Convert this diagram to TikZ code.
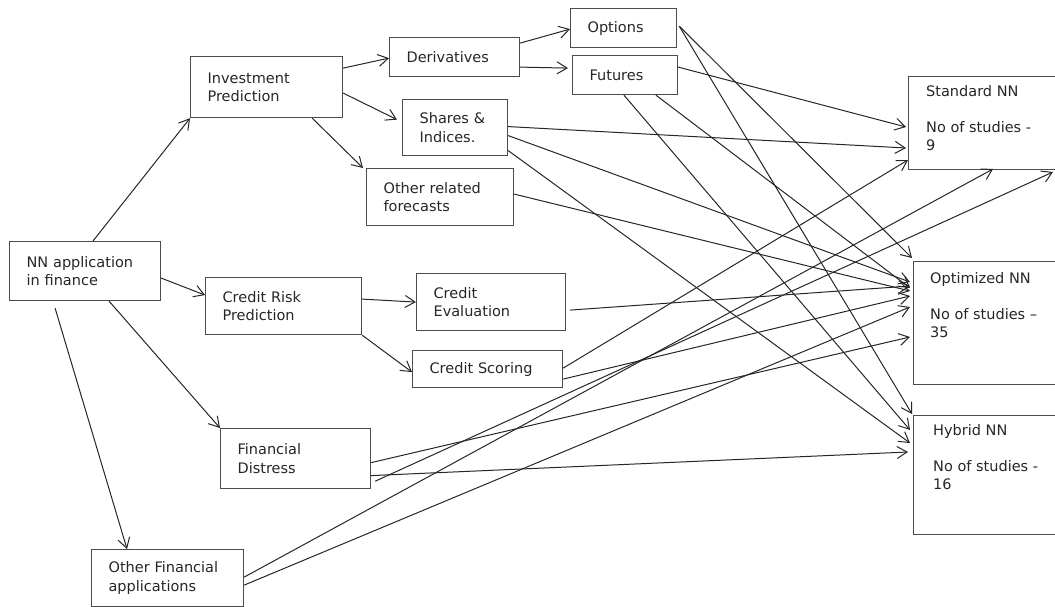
\documentclass[tikz,border=0pt]{standalone}
\usepackage{fontspec}
\setmainfont{DejaVu Sans}
\usetikzlibrary{arrows.meta}

\tikzset{
  box/.style={draw=black!70, line width=1.2pt, anchor=north west, inner xsep=17pt, inner ysep=0pt, align=left, text=black!85, font=\fontsize{14.5}{18.5}\selectfont},
  bigbox/.style={draw=black!70, line width=1.2pt, anchor=north west, minimum width=160pt, inner sep=0pt},
  bigtext/.style={anchor=north west, inner sep=0pt, align=left, text=black!85, font=\fontsize{14.5}{18}\selectfont},
  link/.style={draw=black!85, line width=1pt, -{Straight Barb[length=10pt,width=12pt]}},
}

\begin{document}
\begin{tikzpicture}[x=1pt,y=-1pt]
\useasboundingbox (0,0) rectangle (1055,607);

% left part
\node[box, text width=117pt, minimum height=59pt] (nn) at (9,241) {NN application\\in finance};
\node[box, text width=118pt, minimum height=61pt] (invest) at (190,56) {Investment\\Prediction};
\node[box, text width=122pt, minimum height=57pt] (crisk) at (205,277) {Credit Risk\\Prediction};
\node[box, text width=116pt, minimum height=60pt] (findis) at (220,428) {Financial\\Distress};
\node[box, text width=118pt, minimum height=57pt] (otherfin) at (91,549) {Other Financial\\applications};

% middle part
\node[box, text width=96pt, minimum height=39pt] (deriv) at (389,37) {Derivatives};
\node[box, text width=72pt, minimum height=39pt] (options) at (570,8) {Options};
\node[box, text width=71pt, minimum height=39pt] (futures) at (572,55) {Futures};
\node[box, text width=71pt, minimum height=56pt] (shares) at (402,99) {Shares \&\\Indices.};
\node[box, text width=113pt, minimum height=57pt] (otherrel) at (366,168) {Other related\\forecasts};
\node[box, text width=115pt, minimum height=57pt] (creval) at (416,273) {Credit\\Evaluation};
\node[box, text width=116pt, minimum height=37pt] (crscore) at (412,350) {Credit Scoring};

% right part
\node[bigbox, minimum height=93pt] (std) at (908,76) {};
\node[bigtext] (stdtext) at ([xshift=18pt,yshift=-9pt]std.north west) {Standard NN\\[18pt]No of studies -\\9};
\node[bigbox, minimum height=123pt] (opt) at (913,261) {};
\node[bigtext] (opttext) at ([xshift=17pt,yshift=-11pt]opt.north west) {Optimized NN\\[18pt]No of studies --\\35};
\node[bigbox, minimum height=119pt] (hyb) at (913,415) {};
\node[bigtext] (hybtext) at ([xshift=20pt,yshift=-9pt]hyb.north west) {Hybrid NN\\[18pt]No of studies -\\16};

% tree
\draw[link] ([xshift=84pt]nn.north west) -- (invest.south west);
\draw[link] ([yshift=-7pt]nn.east) -- ([yshift=11pt]crisk.west);
\draw[link] ([xshift=24pt]nn.south) -- (findis.north west);
\draw[link] ([xshift=-30pt,yshift=-7pt]nn.south) -- ([xshift=36pt]otherfin.north west);
\draw[link] ([yshift=19pt]invest.east) -- ([yshift=-1pt]deriv.west);
\draw[link] ([yshift=-6pt]invest.east) -- ([xshift=-5pt,yshift=8pt]shares.west);
\draw[link] ([xshift=-31pt]invest.south east) -- ([xshift=-3pt]otherrel.north west);
\draw[link] ([yshift=14pt]deriv.east) -- ([yshift=-1pt]options.west);
\draw[link] ([yshift=-10pt]deriv.east) -- ([xshift=-4pt,yshift=7pt]futures.west);
\draw[link] ([yshift=7pt]crisk.east) -- (creval.west);
\draw[link] (crisk.south east) -- ([yshift=-3pt]crscore.west);

% to Standard NN
\draw[link] ([yshift=8pt]futures.east) -- ([xshift=-2pt,yshift=-51pt]std.north west);
\draw[link] ([yshift=1pt]shares.east) -- ([xshift=-2pt,yshift=-72pt]std.north west);
\draw[link] ([yshift=1pt]crscore.east) -- ([yshift=-84pt]std.north west);
\draw[link] ([xshift=4pt,yshift=8pt]findis.south east) -- ([xshift=145pt,yshift=-96pt]std.north west);
\draw[link] ([yshift=1pt]otherfin.east) -- ([xshift=85pt,yshift=-93pt]std.north west);

% to Optimized NN
\draw[link] ([xshift=2pt,yshift=2pt]options.east) -- ([xshift=-1pt,yshift=3pt]opt.north west);
\draw[link] ([xshift=84pt]futures.south west) -- ([xshift=-3pt,yshift=-27pt]opt.north west);
\draw[link] ([yshift=-8pt]shares.east) -- ([xshift=-3pt,yshift=-21pt]opt.north west);
\draw[link] ([yshift=3pt]otherrel.east) -- ([xshift=-3pt,yshift=-30pt]opt.north west);
\draw[link] ([xshift=4pt,yshift=-8pt]creval.east) -- ([xshift=-3pt,yshift=-25pt]opt.north west);
\draw[link] ([yshift=-10pt]crscore.east) -- ([xshift=-3pt,yshift=-35pt]opt.north west);
\draw[link] ([yshift=-4pt]findis.east) -- ([xshift=-3pt,yshift=-76pt]opt.north west);
\draw[link] ([yshift=-7pt]otherfin.east) -- ([xshift=-3pt,yshift=-46pt]opt.north west);

% to Hybrid NN
\draw[link] ([xshift=2pt,yshift=2pt]options.east) -- ([xshift=-1pt,yshift=1pt]hyb.north west);
\draw[link] ([xshift=52pt]futures.south west) -- ([xshift=-3pt,yshift=-15pt]hyb.north west);
\draw[link] ([yshift=-23pt]shares.east) -- ([xshift=-3pt,yshift=-28pt]hyb.north west);
\draw[link] ([yshift=-17pt]findis.east) -- ([xshift=-5pt,yshift=-37pt]hyb.north west);
\end{tikzpicture}
\end{document}
